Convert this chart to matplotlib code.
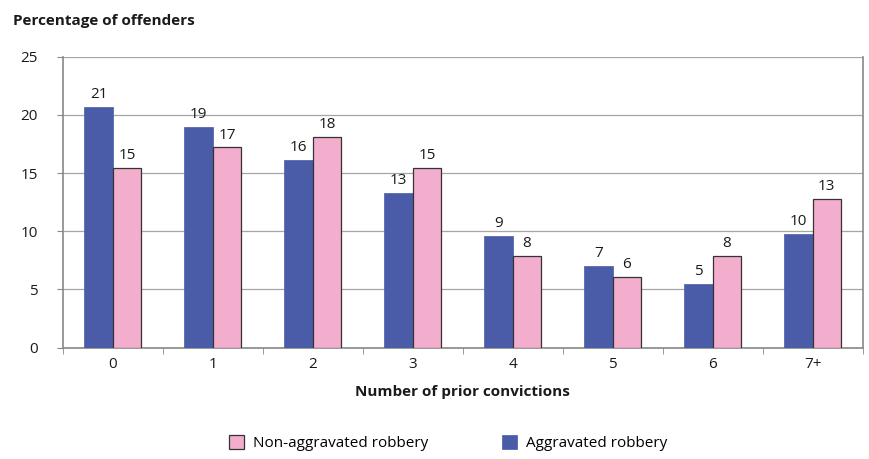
import matplotlib
matplotlib.use("Agg")
import matplotlib.pyplot as plt
import numpy as np

plt.rcParams["font.family"] = ["Open Sans", "DejaVu Sans"]

BLUE = "#4A5BA8"; PINK = "#F4AECD"; GRID = "#A6A6A6"; INK = "#1a1a1a"
FS = 11

categories = ["0", "1", "2", "3", "4", "5", "6", "7+"]
aggravated = [20.7, 19.0, 16.1, 13.3, 9.6, 7.0, 5.45, 9.8]
non_aggravated = [15.45, 17.2, 18.1, 15.45, 7.9, 6.1, 7.9, 12.8]
aggravated_labels = ["21", "19", "16", "13", "9", "7", "5", "10"]
non_aggravated_labels = ["15", "17", "18", "15", "8", "6", "8", "13"]

fig = plt.figure(figsize=(8.7, 4.59), dpi=100)
ax = fig.add_axes([0.0724, 0.2425, 0.919, 0.634])

x = np.arange(len(categories))
w = 0.285
b1 = ax.bar(x - w/2, aggravated, w, color=BLUE, edgecolor=BLUE, linewidth=0.5,
            label="Aggravated robbery", zorder=3)
b2 = ax.bar(x + w/2, non_aggravated, w, color=PINK, edgecolor="#333333",
            linewidth=0.9, label="Non-aggravated robbery", zorder=3)
ax.bar_label(b1, labels=aggravated_labels, padding=3.5, fontsize=FS, color=INK)
ax.bar_label(b2, labels=non_aggravated_labels, padding=3.5, fontsize=FS, color=INK)

ax.set_xlim(-0.5, len(categories) - 0.5)
ax.set_ylim(0, 25)
ax.set_yticks([0, 5, 10, 15, 20, 25])
ax.yaxis.grid(True, color=GRID, lw=0.9, zorder=0)
ax.set_axisbelow(True)
ax.set_xticks(x)
ax.set_xticklabels(categories, fontsize=FS, color=INK)
ax.set_xticks(np.arange(-0.5, len(categories)), minor=True)
ax.tick_params(axis="x", which="major", length=0, pad=7)
ax.tick_params(axis="x", which="minor", length=4, color="#888888")
ax.tick_params(axis="y", length=4, color="#888888", labelsize=FS,
               labelcolor=INK, pad=14)
for s in ["left", "bottom", "right"]:
    ax.spines[s].set_color("#888888")
    ax.spines[s].set_linewidth(1.2)
ax.spines["top"].set_visible(False)

ax.set_xlabel("Number of prior convictions", fontsize=FS, fontweight="bold",
              color=INK, labelpad=9)
fig.text(0.015, 0.955, "Percentage of offenders", fontsize=FS,
         fontweight="bold", color=INK, va="center")

h, l = ax.get_legend_handles_labels()
fig.legend(h[::-1], l[::-1], loc="center", bbox_to_anchor=(0.515, 0.035),
           ncol=2, frameon=False, fontsize=FS, handlelength=1.0,
           handleheight=1.0, columnspacing=4.8, handletextpad=0.6)

fig.savefig("out.png", dpi=100)
